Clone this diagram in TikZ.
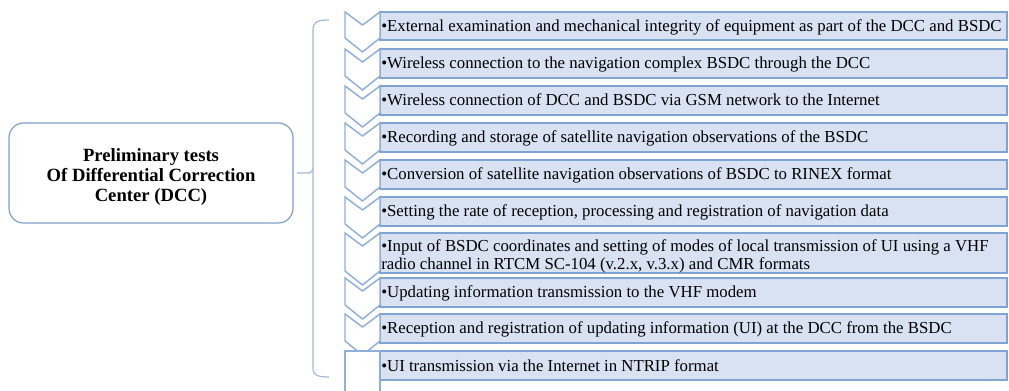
\documentclass[tikz,border=0pt]{standalone}
\usepackage{fontspec}
\setmainfont{Liberation Serif}[BoldFont={Liberation Serif Bold}]
\definecolor{boxfill}{HTML}{D9E2F3}
\definecolor{boxline}{HTML}{7FA3D3}
\definecolor{chevline}{HTML}{8EAEDC}
\definecolor{brk}{HTML}{A3B9D6}
\definecolor{mainline}{HTML}{7F9FCB}
\begin{document}
\begin{tikzpicture}[x=0.75pt,y=-0.75pt,
  rowbox/.style={draw=boxline, fill=boxfill, line width=1.1pt},
  chev/.style={draw=chevline, fill=white, line width=1.1pt, line join=miter},
  rowtext/.style={font=\fontsize{12.6}{13.5}\selectfont, anchor=base west, inner sep=0pt, align=left},
  mainbox/.style={draw=mainline, fill=white, line width=0.9pt, rounded corners=11pt,
    minimum width=213pt, minimum height=75pt},
  maintext/.style={align=center, inner sep=0pt, font=\bfseries\fontsize{14}{15}\selectfont},
  bracketline/.style={draw=brk, line width=0.9pt}]
\useasboundingbox (0,0) rectangle (1009,391);
% row boxes
\foreach \t/\b in {12/40,49/78,86/115,123/152,160/189,197/226,233/273,278/307,314/343,351/380}
  \draw[rowbox] (380,\t) rectangle (1007,\b);
% chevrons
\foreach \t/\b in {12/40,49/78,86/115,123/152,160/189,197/226,233/273,278/307,314/343}
  \draw[chev] (345,\t) -- (362.5,\t+13) -- (380,\t) -- (380,\b-2) -- (362.5,\b+12) -- (345,\b-2) -- cycle;
\draw[chev] (345,351) rectangle (380,400);
% texts
\node[rowtext] (t1) at (381,31.5) {•External examination and mechanical integrity of equipment as part of the DCC and BSDC};
\node[rowtext] (t2) at (381,69) {•Wireless connection to the navigation complex BSDC through the DCC};
\node[rowtext] (t3) at (381,106) {•Wireless connection of DCC and BSDC via GSM network to the Internet};
\node[rowtext] (t4) at (381,143) {•Recording and storage of satellite navigation observations of the BSDC};
\node[rowtext] (t5) at (381,180) {•Conversion of satellite navigation observations of BSDC to RINEX format};
\node[rowtext] (t6) at (381,217) {•Setting the rate of reception, processing and registration of navigation data};
\node[rowtext, anchor=west] (t7) at (381,256) {•Input of BSDC coordinates and setting of modes of local transmission of UI using a VHF\\radio channel in RTCM SC-104 (v.2.x, v.3.x) and CMR formats};
\node[rowtext] (t8) at (381,298) {•Updating information transmission to the VHF modem};
\node[rowtext] (t9) at (381,334) {•Reception and registration of updating information (UI) at the DCC from the BSDC};
\node[rowtext] (t10) at (381,371) {•UI transmission via the Internet in NTRIP format};
% main box
\node[mainbox] (main) at (151,173) {};
\node[maintext] (mtext) at (151,177) {Preliminary tests\\Of Differential Correction\\Center (DCC)};
% bracket
\coordinate (btop) at (329,20);
\coordinate (bbot) at (329,377);
\coordinate (btick) at (297,173);
\draw[bracketline] (btop) .. controls (317,20) and (313,22) .. (313,30) -- (313,368)
  .. controls (313,375) and (317,377) .. (bbot);
\draw[bracketline] (btick) -- (309,173) .. controls (311,173) and (313,171) .. (313,168);
\end{tikzpicture}
\end{document}
